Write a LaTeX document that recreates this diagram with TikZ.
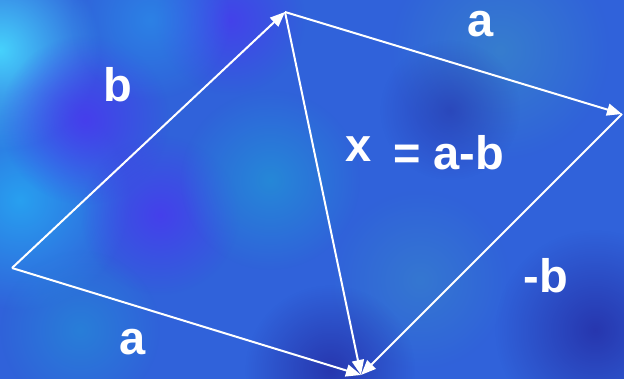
\documentclass[tikz,border=0pt]{standalone}
\usepackage{fontspec}
\setmainfont{Liberation Sans}
\usetikzlibrary{arrows.meta,fadings}
\definecolor{bgbase}{RGB}{48,98,218}
\definecolor{cyanl}{RGB}{70,210,252}
\definecolor{skyb}{RGB}{40,160,240}
\definecolor{purp}{RGB}{72,58,238}
\definecolor{steel}{RGB}{55,128,205}
\definecolor{deep}{RGB}{38,50,170}
\definecolor{teal}{RGB}{35,145,215}
\tikzfading[name=softfade, inner color=transparent!0, outer color=transparent!100]
\tikzset{
  blob/.style={path fading=softfade},
  vec/.style={draw=white, line width=2pt, -{Triangle[length=15pt,width=12pt]}},
  lbl/.style={text=white, font=\fontsize{47}{47}\selectfont\bfseries, inner sep=0pt, anchor=base}
}
\begin{document}
\begin{tikzpicture}[x=1pt,y=-1pt]
\fill[bgbase] (0,0) rectangle (624,379);
\useasboundingbox (0,0) rectangle (624,379);
% background texture
\fill[skyb, blob, opacity=1] (20,200) circle (110);
\fill[cyanl, blob, opacity=1] (0,50) circle (100);
\fill[purp, blob, opacity=0.9] (85,120) circle (85);
\fill[purp, blob, opacity=0.85] (160,215) circle (80);
\fill[purp, blob, opacity=0.8] (230,20) circle (75);
\fill[teal, blob, opacity=0.8] (270,180) circle (90);
\fill[skyb, blob, opacity=0.5] (150,20) circle (80);
\fill[steel, blob, opacity=0.9] (500,50) circle (110);
\fill[steel, blob, opacity=0.7] (420,280) circle (90);
\fill[deep, blob, opacity=0.9] (595,330) circle (100);
\fill[deep, blob, opacity=0.9] (330,370) circle (85);
\fill[deep, blob, opacity=0.6] (450,110) circle (70);
\fill[teal, blob, opacity=0.6] (80,330) circle (80);
% points
\coordinate (O) at (12,268);
\coordinate (T) at (285,12);
\coordinate (R) at (622,114);
\coordinate (B) at (361,375);
% vectors
\draw[vec] (O) -- (T);
\draw[vec] (T) -- (R);
\draw[vec] (O) -- (B);
\draw[vec] (T) -- (B);
\draw[vec] (R) -- (B);
% labels
\node[lbl] (lb) at (118,102) {b};
\node[lbl] (la1) at (481,37) {a};
\node[lbl] (la2) at (133,355) {a};
\node[lbl] (lmb) at (546,293) {-b};
\node[lbl] (lx) at (359,162) {x};
\node[lbl, anchor=base west] (leq) at (393,170) {= a-b};
\end{tikzpicture}
\end{document}
